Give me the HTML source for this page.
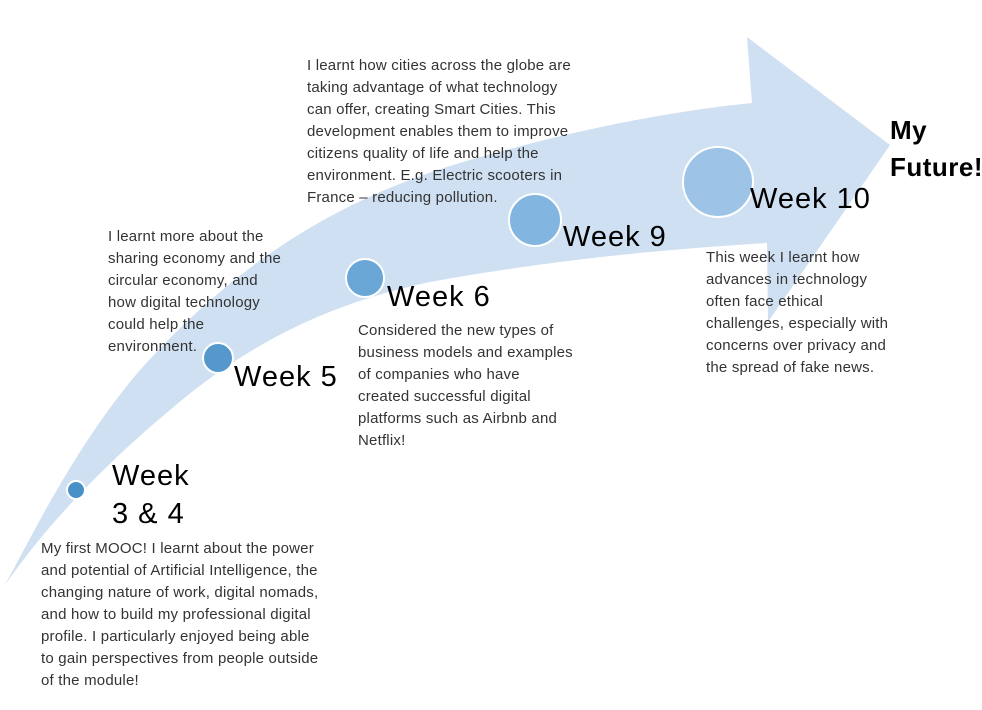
<!DOCTYPE html>
<html><head><meta charset="utf-8"><style>
body{margin:0;width:982px;height:710px;background:#fff;position:relative;overflow:hidden;font-family:"Liberation Sans",sans-serif}
.p{position:absolute;font-size:15px;letter-spacing:0.2px;line-height:22px;color:#333;white-space:nowrap}
.w{position:absolute;font-size:29px;letter-spacing:1px;line-height:36px;color:#000;white-space:nowrap}
</style></head><body>
<svg width="982" height="710" style="position:absolute;left:0;top:0">
<path d="M5,585 C40,520 80,440 140,370 C230,270 330,200 470,160 C580,128 680,110 752,103 L747,37 L890,145 L768,322 L767,243 C650,250 540,262 430,282 C320,305 240,350 170,410 C110,460 50,520 5,585 Z" fill="#cfe0f2"/>
<g stroke="#fff" stroke-width="2">
<circle cx="76" cy="490" r="9" fill="#4a90c8"/>
<circle cx="218" cy="358" r="15" fill="#5598cc"/>
<circle cx="365" cy="278" r="19" fill="#6aa6d6"/>
<circle cx="535" cy="220" r="26" fill="#82b5e0"/>
<circle cx="718" cy="182" r="35" fill="#9dc3e6"/>
</g>
</svg>
<div class="p" style="left:307px;top:55px">I learnt how cities across the globe are<br>taking advantage of what technology<br>can offer, creating Smart Cities. This<br>development enables them to improve<br>citizens quality of life and help the<br>environment. E.g. Electric scooters in<br>France – reducing pollution.</div>
<div class="p" style="left:108px;top:226px">I learnt more about the<br>sharing economy and the<br>circular economy, and<br>how digital technology<br>could help the<br>environment.</div>
<div class="p" style="left:358px;top:320px">Considered the new types of<br>business models and examples<br>of companies who have<br>created successful digital<br>platforms such as Airbnb and<br>Netflix!</div>
<div class="p" style="left:706px;top:247px">This week I learnt how<br>advances in technology<br>often face ethical<br>challenges, especially with<br>concerns over privacy and<br>the spread of fake news.</div>
<div class="p" style="left:41px;top:538px">My first MOOC! I learnt about the power<br>and potential of Artificial Intelligence, the<br>changing nature of work, digital nomads,<br>and how to build my professional digital<br>profile. I particularly enjoyed being able<br>to gain perspectives from people outside<br>of the module!</div>
<div class="w" style="left:112px;top:458px">Week</div>
<div class="w" style="left:112px;top:496px">3 &amp; 4</div>
<div class="w" style="left:234px;top:359px">Week 5</div>
<div class="w" style="left:387px;top:279px">Week 6</div>
<div class="w" style="left:563px;top:219px">Week 9</div>
<div class="w" style="left:750px;top:181px">Week 10</div>
<div class="w" style="left:890px;top:112px;font-weight:bold;font-size:26px;letter-spacing:0.5px">My</div>
<div class="w" style="left:890px;top:149px;font-weight:bold;font-size:26px;letter-spacing:0.5px">Future!</div>
</body></html>
